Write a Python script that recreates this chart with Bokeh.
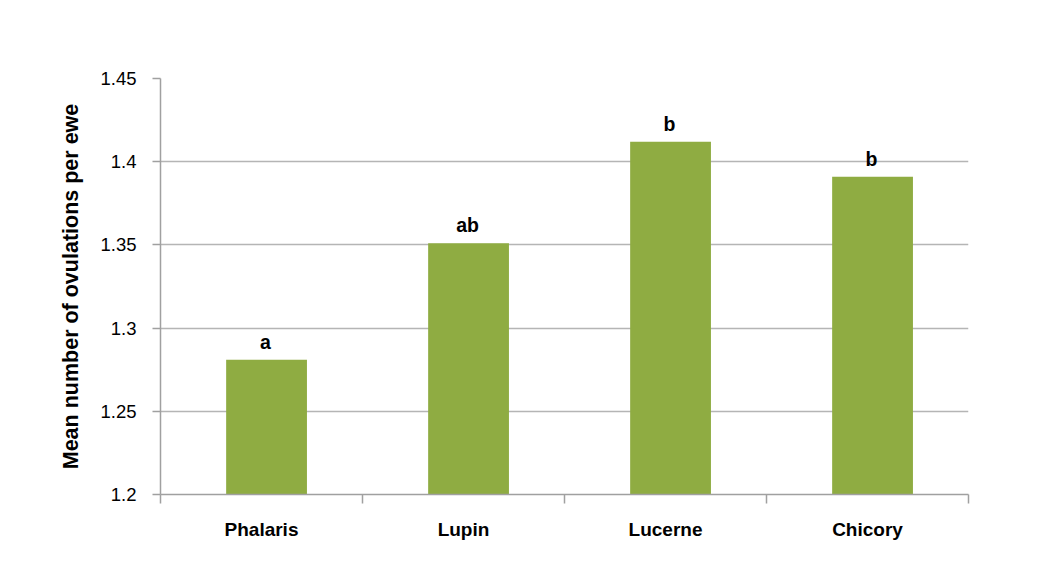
import numpy as np
from bokeh.plotting import figure
from bokeh.models import ColumnDataSource, Range1d, FixedTicker, LinearAxis, Grid
from bokeh.core.properties import value
from bokeh.transform import dodge
from bokeh.embed import file_html
from bokeh.resources import INLINE

categories = ["Phalaris", "Lupin", "Lucerne", "Chicory"]
ovulations = [1.281, 1.351, 1.412, 1.391]
letters = ["a", "ab", "b", "b"]
y_ticks = [1.2, 1.25, 1.3, 1.35, 1.4, 1.45]
y_tick_labels = ["1.2", "1.25", "1.3", "1.35", "1.4", "1.45"]

pos = np.arange(len(categories)) + 0.5
src = ColumnDataSource(dict(x=pos, top=ovulations, lab=letters))

FONT = "Liberation Sans"
GRID = "#b5b5b5"
AXIS = "#a0a0a0"
BAR = "#8fac42"

p = figure(width=1024, height=572, output_backend="svg", toolbar_location=None,
           x_range=Range1d(0, len(categories)), y_range=Range1d(1.2, 1.45),
           min_border_left=160, min_border_right=56, min_border_top=78,
           min_border_bottom=78, x_axis_type=None, y_axis_type=None)
p.outline_line_color = None
p.background_fill_color = "white"
p.border_fill_color = "white"

p.vbar(x=dodge("x", 0.025, range=p.x_range), top="top", bottom=1.2, width=0.4,
       source=src, fill_color=BAR, line_color=None)

p.text(x=dodge("x", 0.02, range=p.x_range), y="top", text="lab", source=src,
       text_font=value(FONT), text_font_style="bold", text_font_size="19.5px",
       text_align="center", text_baseline="alphabetic", y_offset=-18,
       text_color="black")

# y axis
yax = LinearAxis(ticker=FixedTicker(ticks=y_ticks, minor_ticks=[]))
yax.major_label_overrides = {t: l for t, l in zip(y_ticks, y_tick_labels)}
yax.axis_line_color = AXIS
yax.axis_line_width = 1.5
yax.major_tick_line_color = AXIS
yax.major_tick_line_width = 1.5
yax.major_tick_out = 8
yax.major_tick_in = 0
yax.major_label_standoff = 16
yax.major_label_text_font = FONT
yax.major_label_text_font_size = "18.5px"
yax.major_label_text_color = "black"
yax.axis_label = "Mean number of ovulations per ewe"
yax.axis_label_text_font = FONT
yax.axis_label_text_font_style = "bold"
yax.axis_label_text_font_size = "21.5px"
yax.axis_label_text_color = "black"
yax.axis_label_standoff = 14
p.add_layout(yax, "left")

# x axis: category labels at centres, ticks at boundaries
xax = LinearAxis(ticker=FixedTicker(ticks=list(pos),
                                    minor_ticks=list(range(len(categories) + 1))))
xax.major_label_overrides = {float(x): c for x, c in zip(pos, categories)}
xax.axis_line_color = AXIS
xax.axis_line_width = 1.5
xax.major_tick_line_color = None
xax.major_tick_out = 0
xax.major_tick_in = 0
xax.minor_tick_line_color = AXIS
xax.minor_tick_line_width = 1.5
xax.minor_tick_out = 9
xax.minor_tick_in = 0
xax.major_label_standoff = 15
xax.major_label_text_font = FONT
xax.major_label_text_font_style = "bold"
xax.major_label_text_font_size = "19px"
xax.major_label_text_color = "black"
p.add_layout(xax, "below")

p.add_layout(Grid(dimension=1, ticker=yax.ticker, grid_line_color=GRID,
                  grid_line_width=1.5))

open("out.html", "w").write(file_html(p, INLINE))
